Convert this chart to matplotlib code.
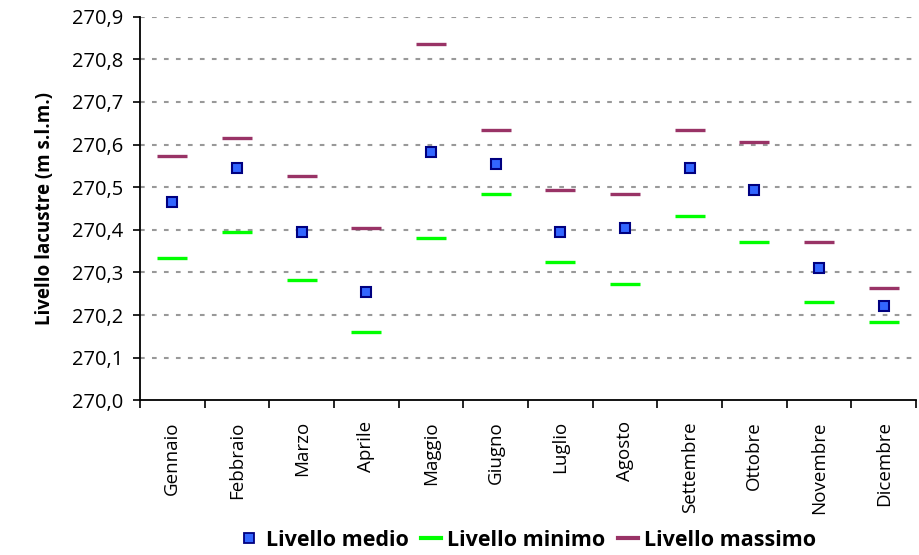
import numpy as np
import matplotlib
matplotlib.use("Agg")
import matplotlib.pyplot as plt
from matplotlib.lines import Line2D
from matplotlib.ticker import FuncFormatter, FixedLocator

# -----------------------------
# Data
# -----------------------------
mesi = ["Gennaio", "Febbraio", "Marzo", "Aprile", "Maggio", "Giugno",
        "Luglio", "Agosto", "Settembre", "Ottobre", "Novembre", "Dicembre"]
livello_medio = [270.465, 270.544, 270.395, 270.254, 270.583, 270.554,
                 270.395, 270.404, 270.544, 270.493, 270.311, 270.222]
livello_minimo = [270.334, 270.395, 270.283, 270.160, 270.381, 270.485,
                  270.325, 270.274, 270.432, 270.371, 270.231, 270.184]
livello_massimo = [270.573, 270.615, 270.527, 270.405, 270.835, 270.634,
                   270.493, 270.485, 270.634, 270.606, 270.371, 270.264]

plt.rcParams['font.family'] = ['Open Sans', 'DejaVu Sans']

fig = plt.figure(figsize=(9.19, 5.55), dpi=100)
ax = fig.add_axes([0.1523, 0.2787, 0.8444, 0.6913])

x = np.arange(len(mesi))

# gridlines
for v in np.arange(270.1, 270.95, 0.1):
    ax.axhline(v, color="#999999", lw=1.5, linestyle=(0, (2.25, 3.5)), zorder=1)

ax.plot(x, livello_massimo, linestyle="none", marker="_", markersize=22,
        markeredgewidth=2.4, color="#993366", zorder=3)
ax.plot(x, livello_minimo, linestyle="none", marker="_", markersize=22,
        markeredgewidth=2.4, color="#00FF00", zorder=3)
ax.plot(x, livello_medio, linestyle="none", marker="s", markersize=7.5,
        markerfacecolor="#3366FF", markeredgecolor="#000080",
        markeredgewidth=1.5, zorder=4)

ax.set_xlim(-0.5, len(mesi) - 0.5)
ax.set_ylim(270.0, 270.9)

# x axis: tick marks between categories, labels at centers
ax.xaxis.set_major_locator(FixedLocator(np.arange(-0.5, len(mesi), 1.0)))
ax.xaxis.set_minor_locator(FixedLocator(x))
ax.set_xticklabels([], minor=False)
ax.set_xticklabels(mesi, minor=True, rotation=90, fontsize=13.5)
ax.tick_params(axis="x", which="major", length=6, width=1.2, direction="out")
ax.tick_params(axis="x", which="minor", length=0, pad=15)

ax.set_yticks(np.arange(270.0, 270.95, 0.1))
ax.yaxis.set_major_formatter(FuncFormatter(lambda v, p: f"{v:.1f}".replace(".", ",")))
ax.tick_params(axis="y", length=5, width=1.2, labelsize=14.5, pad=7)

for s in ["top", "right"]:
    ax.spines[s].set_visible(False)
for s in ["left", "bottom"]:
    ax.spines[s].set_linewidth(1.3)

ax.set_ylabel("Livello lacustre (m s.l.m.)", fontsize=13.5, fontweight="bold", labelpad=12)

# legend
h_medio = Line2D([], [], linestyle="none", marker="s", markersize=7,
                 markerfacecolor="#3366FF", markeredgecolor="#000080", markeredgewidth=1.3)
h_min = Line2D([], [], color="#00FF00", lw=3)
h_max = Line2D([], [], color="#993366", lw=3)
fig.legend([h_medio, h_min, h_max], ["Livello medio", "Livello minimo", "Livello massimo"],
           loc="center", bbox_to_anchor=(0.5745, 0.027), ncol=3, frameon=False,
           prop={"weight": "bold", "size": 15.5}, handlelength=0.9,
           handletextpad=0.3, columnspacing=0.6)

plt.savefig("out.png", dpi=100)
